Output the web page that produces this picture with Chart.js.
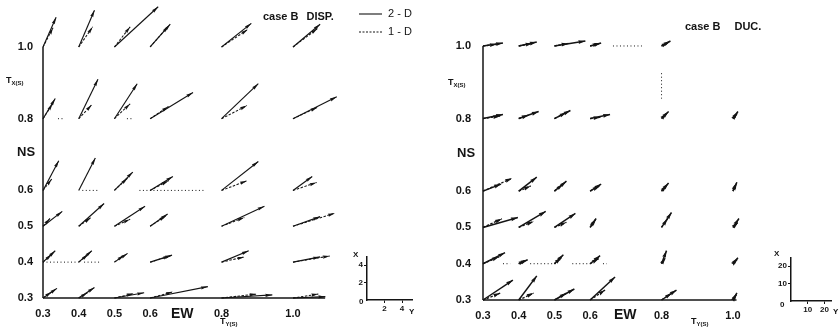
<!DOCTYPE html>
<html><head><meta charset="utf-8">
<script src="https://cdn.jsdelivr.net/npm/chart.js@4.4.0/dist/chart.umd.min.js"></script>
<style>
html,body{margin:0;padding:0;background:#fff;width:839px;height:327px;overflow:hidden}
canvas{position:absolute;display:block}
</style></head><body>
<canvas id="dispChart" width="420" height="327" style="left:0;top:0"></canvas>
<canvas id="dispKey" width="87" height="80" style="left:338px;top:240px"></canvas>
<canvas id="ducChart" width="419" height="327" style="left:420px;top:0"></canvas>
<canvas id="ducKey" width="81" height="80" style="left:758px;top:240px"></canvas>
<script>
// ---------- DATA ----------
const tyCols = [0.3, 0.4, 0.5, 0.6, 0.8, 1.0];   // EW period Ty (s)
const txRows = [1.0, 0.8, 0.6, 0.5, 0.4, 0.3];   // NS period Tx (s)

// case B DISP. : vector components (EW = Y comp, NS = X comp), rows follow txRows, cols follow tyCols
const disp2D_EW = [
  [1.5, 1.8, 5.0, 2.3, 3.4, 3.1],
  [1.4, 2.2, 2.6, 4.9, 4.2, 5.0],
  [1.8, 1.9, 2.1, 2.6, 4.2, 2.2],
  [2.2, 2.9, 3.5, 2.0, 4.9, 3.1],
  [1.4, 1.5, 1.5, 2.5, 3.1, 3.1],
  [1.6, 1.8, 3.4, 6.6, 5.8, 3.7]];
const disp2D_NS = [
  [3.4, 4.2, 4.6, 2.6, 2.7, 2.6],
  [2.3, 4.5, 4.0, 3.0, 4.0, 2.5],
  [3.4, 3.7, 2.1, 1.6, 3.3, 1.6],
  [1.7, 2.6, 2.3, 1.4, 2.3, 1.1],
  [1.3, 1.3, 1.0, 0.8, 1.3, 0.6],
  [1.1, 1.2, 0.6, 1.3, 0.35, 0.15]];
const disp1D_EW = [
  [1.15, 1.6, 1.8, 2.1, 3.0, 2.8],
  [1.1, 1.5, 1.8, 2.1, 2.9, 2.8],
  [1.0, null, 1.5, 2.1, 2.9, 2.7],
  [0.8, 1.4, 1.8, 1.8, 2.6, 4.8],
  [1.0, 1.1, 1.1, 2.3, 2.6, 4.2],
  [1.0, 1.0, 2.2, 2.6, 4.0, 2.9]];
const disp1D_NS = [
  [2.2, 2.3, 2.3, 2.4, 2.0, 2.1],
  [1.7, 1.6, 1.7, 1.4, 1.5, 1.3],
  [1.3, null, 1.4, 1.1, 1.1, 0.9],
  [0.9, 1.0, 0.8, 1.2, 1.0, 1.5],
  [0.9, 0.9, 0.8, 0.7, 0.6, 0.7],
  [0.7, 0.6, 0.5, 0.7, 0.45, 0.45]];
// dotted guide segments [Ty1, Tx1, Ty2, Tx2]
const dispDots = [[0.342,0.8,0.356,0.8],[0.535,0.8,0.55,0.8],[0.41,0.6,0.455,0.6],
  [0.57,0.6,0.755,0.6],[0.3,0.4,0.4,0.4],[0.415,0.4,0.457,0.4]];

// case B DUC. : ductility vector components
const duc2D_EW = [
  [11.6, 10.5, 18.0, 6.4, 5.2, null],
  [11.6, 11.6, 9.3, 11.6, 4.1, 2.9],
  [10.5, 10.5, 7.0, 6.4, 4.1, 2.3],
  [20.3, 15.7, 12.2, 3.5, 5.8, 3.5],
  [12.8, 5.2, 5.2, 5.8, 2.9, 2.9],
  [17.4, 10.5, 11.6, 14.5, 8.7, 2.3]];
const duc2D_NS = [
  [1.7, 2.3, 2.9, 1.7, 2.9, null],
  [2.3, 4.1, 4.7, 2.3, 4.1, 4.1],
  [4.1, 8.1, 5.8, 4.1, 4.7, 5.2],
  [5.8, 9.3, 8.1, 5.2, 8.7, 5.2],
  [6.4, 2.3, 5.2, 4.7, 7.6, 3.5],
  [11.6, 14.0, 6.4, 13.4, 5.8, 4.1]];
const duc1D_EW = [
  [8.0, 8.0, 8.1, 5.5, 4.0, null],
  [10.0, 5.8, 7.0, 6.0, 3.0, 2.5],
  [16.9, 7.0, 5.0, 5.5, 3.0, 2.0],
  [11.0, 8.7, 7.0, 3.0, 3.5, 3.0],
  [9.3, 4.0, 4.0, 5.0, 2.3, 2.5],
  [10.0, 8.7, 7.0, 8.7, 6.0, 2.0]];
const duc1D_NS = [
  [1.0, 1.5, 1.5, 1.5, 2.0, null],
  [1.5, 2.0, 3.5, 0.8, 3.0, 3.0],
  [7.5, 3.0, 4.0, 3.0, 3.5, 4.5],
  [5.0, 3.5, 3.0, 4.5, 5.0, 3.0],
  [4.0, 2.0, 3.5, 3.0, 3.5, 2.5],
  [4.0, 4.0, 4.0, 5.8, 4.0, 3.0]];
const ducDots = [[0.664,1.0,0.745,1.0],[0.8,0.925,0.8,0.855],[0.356,0.4,0.376,0.4],
  [0.432,0.4,0.505,0.4],[0.55,0.4,0.605,0.4],[0.636,0.4,0.647,0.4]];

const dispKeyTicks = [2, 4];
const ducKeyTicks = [10, 20];

// ---------- RENDERING ----------
const INK = '#141414';
const FONT = '"Liberation Sans", Arial, Helvetica, sans-serif';

const arrowHeads = {
  id: 'arrowHeads',
  afterDatasetsDraw(chart) {
    const ctx = chart.ctx;
    chart.data.datasets.forEach((ds, i) => {
      if (!ds.arrow) return;
      const pts = chart.getDatasetMeta(i).data;
      const p0 = pts[0], p1 = pts[1];
      const ang = Math.atan2(p1.y - p0.y, p1.x - p0.x);
      const L = ds.head[0], W = ds.head[1];
      ctx.save();
      ctx.translate(p1.x, p1.y); ctx.rotate(ang);
      ctx.beginPath(); ctx.moveTo(0, 0); ctx.lineTo(-L, W / 2); ctx.lineTo(-L * 0.9, 0); ctx.lineTo(-L, -W / 2); ctx.closePath();
      ctx.fillStyle = INK; ctx.fill();
      ctx.restore();
    });
  }
};

const annotate = {
  id: 'annotate',
  afterDraw(chart, args, opts) {
    const ctx = chart.ctx;
    ctx.save();
    ctx.fillStyle = INK; ctx.strokeStyle = INK; ctx.textBaseline = 'middle';
    (opts.texts || []).forEach(t => {
      let x = t.x;
      ctx.textAlign = 'left';
      t.parts.forEach(p => {
        ctx.font = p.font;
        ctx.fillText(p.s, x, t.y + (p.dy || 0));
        x += ctx.measureText(p.s).width + (p.gap || 0);
      });
    });
    (opts.lines || []).forEach(l => {
      ctx.beginPath(); ctx.lineWidth = 1.1; ctx.setLineDash(l.dash || []);
      ctx.moveTo(l.x1, l.y); ctx.lineTo(l.x2, l.y); ctx.stroke();
    });
    ctx.restore();
  }
};

function buildDatasets(ew2, ns2, ew1, ns1, dots, kx, ky, axisEnd, head, lw) {
  const ds = [];
  const axis = {borderColor: INK, borderWidth: 1.5, pointRadius: 0, clip: false};
  ds.push({...axis, data: [{x: 0.3, y: 0.3}, {x: 0.3, y: 1.0}]});
  ds.push({...axis, data: [{x: 0.3, y: 0.3}, {x: axisEnd, y: 0.3}]});
  dots.forEach(d => ds.push({data: [{x: d[0], y: d[1]}, {x: d[2], y: d[3]}], borderColor: INK,
    borderWidth: 1, borderDash: [1, 2.5], pointRadius: 0, clip: false}));
  txRows.forEach((tx, r) => tyCols.forEach((ty, c) => {
    [[ew1, ns1, true], [ew2, ns2, false]].forEach(([ew, ns, dashed]) => {
      const e = ew[r][c], n = ns[r][c];
      if (e == null || n == null) return;
      ds.push({data: [{x: ty, y: tx}, {x: ty + e * kx, y: tx + n * ky}], borderColor: INK,
        borderWidth: dashed ? lw * 0.9 : lw, borderDash: dashed ? [2.5, 1.5] : [], pointRadius: 0,
        clip: false, arrow: true, head: head});
    });
  }));
  return ds;
}

const tickFont = {family: FONT, size: 11, weight: 'bold'};
const noPad = s => { s.paddingTop = 0; s.paddingBottom = 0; s.paddingLeft = 0; s.paddingRight = 0; };

function mainChart(id, p) {
  return new Chart(document.getElementById(id), {
    type: 'line',
    data: {datasets: p.datasets},
    plugins: [arrowHeads, annotate],
    options: {
      responsive: false, animation: false, events: [],
      layout: {padding: p.padding},
      plugins: {legend: {display: false}, tooltip: {enabled: false}, annotate: p.annot},
      scales: {
        x: {type: 'linear', min: 0.3, max: p.xMax,
          afterBuildTicks: s => { s.ticks = tyCols.map(v => ({value: v})); },
          afterFit: s => { s.height = p.xH; noPad(s); },
          grid: {display: false, drawTicks: false}, border: {display: false},
          ticks: {font: tickFont, color: INK, padding: 9, maxRotation: 0, callback: v => v.toFixed(1)}},
        y: {type: 'linear', min: 0.3, max: p.yMax,
          afterBuildTicks: s => { s.ticks = txRows.map(v => ({value: v})); },
          afterFit: s => { s.width = p.yW; noPad(s); },
          grid: {display: false, drawTicks: false}, border: {display: false},
          ticks: {font: tickFont, color: INK, padding: p.yPad, callback: v => v.toFixed(1)}}
      }
    }
  });
}

function keyChart(id, p) {
  const f = {family: FONT, size: 8, weight: 'bold'};
  const axisOpt = (ticks, max, fit) => ({
    type: 'linear', min: 0, max: max,
    afterBuildTicks: s => { s.ticks = ticks.map(v => ({value: v})); },
    afterFit: s => { fit(s); noPad(s); },
    grid: {display: true, drawOnChartArea: false, drawTicks: true, tickLength: 3, color: INK, lineWidth: 1},
    border: {display: true, color: INK, width: 1.5},
    ticks: {font: f, color: INK, padding: 1}
  });
  return new Chart(document.getElementById(id), {
    type: 'line',
    data: {datasets: []},
    plugins: [annotate],
    options: {
      responsive: false, animation: false, events: [],
      layout: {padding: p.padding},
      plugins: {legend: {display: false}, tooltip: {enabled: false}, annotate: p.annot},
      scales: {
        x: axisOpt(p.ticks, p.xMax, s => { s.height = p.xH; }),
        y: axisOpt(p.ticks, p.yMax, s => { s.width = p.yW; })
      }
    }
  });
}

const big = w => `bold ${w}px ${FONT}`;
const sub = (x, y, letter) => ({x: x, y: y, parts: [{s: 'T', font: big(9)}, {s: letter + '(S)', font: big(6), dy: 2}]});

// left panel: 1 disp unit = 8.75 px, 357.1 px per s (EW), 358.6 px per s (NS)
mainChart('dispChart', {
  datasets: buildDatasets(disp2D_EW, disp2D_NS, disp1D_EW, disp1D_NS, dispDots, 8.75 / 357.1, 8.75 / 358.6, 1.09, [7, 3.2], 1.15),
  padding: {top: 2, right: 91.3, left: 0, bottom: 0},
  xMax: 1.1, yMax: 1.1254, xH: 29, yW: 43, yPad: 10,
  annot: {
    texts: [
      {x: 263, y: 17, parts: [{s: 'case B', font: big(11), gap: 8}, {s: 'DISP.', font: big(11)}]},
      {x: 388, y: 14, parts: [{s: '2 - D', font: `${11}px ${FONT}`}]},
      {x: 388, y: 32, parts: [{s: '1 - D', font: `${11}px ${FONT}`}]},
      {x: 17, y: 152, parts: [{s: 'NS', font: big(13)}]},
      {x: 171, y: 314, parts: [{s: 'EW', font: big(14)}]},
      sub(6, 81, 'X'), sub(220, 322, 'Y')
    ],
    lines: [{x1: 359, x2: 382, y: 14}, {x1: 359, x2: 382, y: 32, dash: [2, 1.5]}]
  }
});

// right panel: 1 ductility unit = 1.72 px
mainChart('ducChart', {
  datasets: buildDatasets(duc2D_EW, duc2D_NS, duc1D_EW, duc1D_NS, ducDots, 1.72 / 357.1, 1.72 / 362.9, 1.01, [7, 3.8], 1.5),
  padding: {top: 2, right: 88.2, left: 0, bottom: 0},
  xMax: 1.05, yMax: 1.1212, xH: 27, yW: 63, yPad: 12,
  annot: {
    texts: [
      {x: 265, y: 27, parts: [{s: 'case B', font: big(11), gap: 14}, {s: 'DUC.', font: big(11)}]},
      {x: 37, y: 153, parts: [{s: 'NS', font: big(13)}]},
      {x: 194, y: 315, parts: [{s: 'EW', font: big(14)}]},
      sub(28, 83, 'X'), sub(271, 322, 'Y')
    ]
  }
});

keyChart('dispKey', {
  ticks: dispKeyTicks, xMax: 5.2, yMax: 5, xH: 20, yW: 29,
  padding: {top: 16.25, right: 12.5, left: 0, bottom: 0},
  annot: {texts: [
    {x: 15, y: 15, parts: [{s: 'X', font: big(8)}]},
    {x: 21, y: 62, parts: [{s: '0', font: big(8)}]},
    {x: 71, y: 72, parts: [{s: 'Y', font: big(8)}]}
  ]}
});

keyChart('ducKey', {
  ticks: ducKeyTicks, xMax: 24.5, yMax: 25, xH: 19, yW: 33,
  padding: {top: 17.25, right: 7.1, left: 0, bottom: 0},
  annot: {texts: [
    {x: 16, y: 14, parts: [{s: 'X', font: big(8)}]},
    {x: 22, y: 65, parts: [{s: '0', font: big(8)}]},
    {x: 75, y: 72, parts: [{s: 'Y', font: big(8)}]}
  ]}
});
</script>
</body></html>
